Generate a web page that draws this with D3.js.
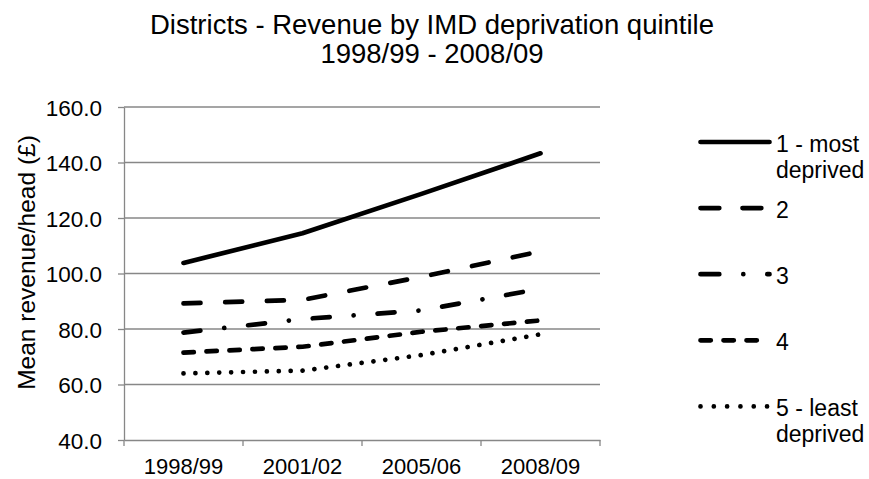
<!DOCTYPE html>
<html lang="en">
<head>
    <meta charset="UTF-8">
    <title>Districts - Revenue by IMD deprivation quintile</title>
    <script src="https://cdn.jsdelivr.net/npm/d3@7"></script>
    <style>
        body { margin: 0; background: #fff; }
        svg { display: block; font-family: "Liberation Sans", Arial, sans-serif; }
        .grid line { stroke: #878787; stroke-width: 1.3px; }
        .axis path, .axis line { stroke: #878787; stroke-width: 1.3px; }
        .axis text { font-size: 22.5px; fill: #000; }
        .series { fill: none; stroke: #000; stroke-width: 4.7px; stroke-linecap: round; stroke-linejoin: round; }
        .legend text { font-size: 23px; fill: #000; }
    </style>
</head>
<body>
    <script>
        const years = ["1998/99", "2001/02", "2005/06", "2008/09"];
        const yTicks = [40, 60, 80, 100, 120, 140, 160];

        const q1 = [103.8, 114.5, 128.7, 143.3];
        const q2 = [89.2, 90.5, 98.8, 108.0];
        const q3 = [78.7, 83.6, 86.7, 94.5];
        const q4 = [71.5, 73.6, 79.0, 83.1];
        const q5 = [64.0, 65.0, 70.6, 78.1];

        const seriesNames = [["1 - most", "deprived"], ["2"], ["3"], ["4"], ["5 - least", "deprived"]];
        const seriesValues = [q1, q2, q3, q4, q5];
        const dashes = ["none", "17,24.7", "17,24,0.01,24", "10.3,12.7", "0.01,11.9"];
        const legendDashes = ["none", "18.8,23.2", "18.8,24,0.01,24", "10.3,12.7", "0.01,13.3"];

        const width = 869, height = 479;
        const margin = { left: 124, right: 269, top: 107, bottom: 39 };

        const svg = d3.select("body").append("svg")
            .attr("width", width)
            .attr("height", height);

        const x = d3.scaleBand()
            .domain(years)
            .range([margin.left, width - margin.right]);

        const y = d3.scaleLinear()
            .domain([40, 160])
            .range([height - margin.bottom, margin.top]);

        // title
        const title = svg.append("text")
            .attr("text-anchor", "middle")
            .style("font-size", "27.5px");
        title.append("tspan").attr("x", 432).attr("y", 34).text("Districts - Revenue by IMD deprivation quintile");
        title.append("tspan").attr("x", 432).attr("y", 63).text("1998/99 - 2008/09");

        // horizontal gridlines
        svg.append("g").attr("class", "grid")
            .selectAll("line")
            .data(yTicks.filter(d => d > 40))
            .enter().append("line")
            .attr("x1", margin.left)
            .attr("x2", width - margin.right)
            .attr("y1", d => y(d))
            .attr("y2", d => y(d));

        // y axis
        const yAxis = svg.append("g").attr("class", "axis")
            .attr("transform", `translate(${margin.left},0)`)
            .call(d3.axisLeft(y).tickValues(yTicks).tickFormat(d3.format(".1f")).tickSize(6).tickSizeOuter(0).tickPadding(16));
        yAxis.selectAll("text").attr("dy", "0.36em");

        // x axis: labels at band centres, ticks at band edges
        const xAxis = svg.append("g").attr("class", "axis")
            .attr("transform", `translate(0,${height - margin.bottom})`)
            .call(d3.axisBottom(x).tickSize(0).tickPadding(20));
        xAxis.selectAll("text").attr("dy", "0.71em").style("font-size", "22px");
        xAxis.selectAll(".tick").attr("transform", d => `translate(${x(d) + x.bandwidth() / 2},-2)`);
        xAxis.selectAll("line.edge")
            .data(years.map(d => x(d)).concat([x.range()[1]]))
            .enter().append("line")
            .attr("class", "edge")
            .attr("x1", d => d).attr("x2", d => d)
            .attr("y1", 0).attr("y2", 6);

        // series lines
        const line = d3.line()
            .x((d, i) => x(years[i]) + x.bandwidth() / 2)
            .y(d => y(d));

        svg.append("g")
            .selectAll("path")
            .data(seriesValues)
            .enter().append("path")
            .attr("class", "series")
            .attr("d", d => line(d))
            .attr("stroke-dasharray", (d, i) => dashes[i]);

        // legend
        const legend = svg.append("g").attr("class", "legend")
            .attr("transform", "translate(700.5,142)");
        const entry = legend.selectAll("g")
            .data(seriesNames)
            .enter().append("g")
            .attr("transform", (d, i) => `translate(0,${i * 66.1})`);
        entry.append("line")
            .attr("class", "series")
            .attr("x1", 0).attr("x2", 69)
            .attr("y1", 0).attr("y2", 0)
            .attr("stroke-dasharray", (d, i) => legendDashes[i]);
        entry.append("text")
            .attr("x", 75.5)
            .attr("y", 9.5)
            .selectAll("tspan")
            .data(d => d)
            .enter().append("tspan")
            .attr("x", 75.5)
            .attr("dy", (d, i) => i === 0 ? 0 : 26.5)
            .text(d => d);

        // y axis title
        svg.append("text")
            .attr("transform", `translate(35,${(margin.top + height - margin.bottom) / 2 - 11}) rotate(-90)`)
            .attr("text-anchor", "middle")
            .style("font-size", "24.5px")
            .text("Mean revenue/head (£)");
    </script>
</body>
</html>
